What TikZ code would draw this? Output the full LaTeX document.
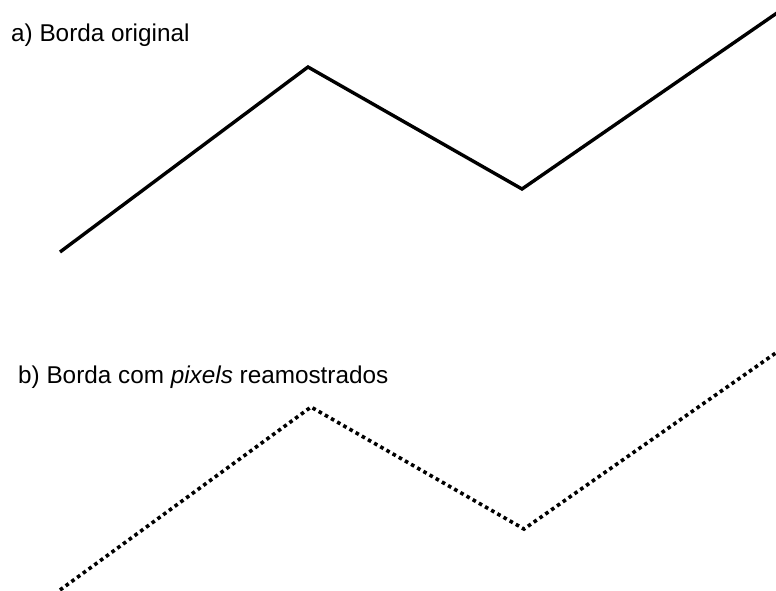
\documentclass[tikz,border=0pt]{standalone}
\usepackage{fontspec}
\setmainfont{Liberation Sans}
\usepackage{tikz}

\begin{document}
\begin{tikzpicture}[
  x=1pt, y=-1pt,
  caption/.style={anchor=base west, inner sep=0pt, font=\fontsize{24.3}{28}\selectfont},
  edge/.style={line width=3.4pt, line join=miter, black},
  resampled/.style={line width=3.6pt, dash pattern=on 3.6pt off 3.5pt, black}
]
  % Frame
  \fill[white] (0,0) rectangle (776,591);
  \useasboundingbox (0,0) rectangle (776,591);
  \clip (0,0) rectangle (776,591);

  % Captions
  \node[caption] (capa) at (11,42) {a) Borda original};
  \node[caption] (capb) at (18,383) {b) Borda com \textit{pixels} reamostrados};

  % Original edge
  \coordinate (a0) at (60,252);
  \coordinate (a1) at (308,67);
  \coordinate (a2) at (522,189);
  \coordinate (a3) at (790,4);

  % Resampled edge
  \coordinate (b0) at (60,590);
  \coordinate (b1) at (311,407);
  \coordinate (b2) at (524,529);
  \coordinate (b3) at (790,343);

  \draw[edge] (a0) -- (a1) -- (a2) -- (a3);
  \draw[resampled] (b0) -- (b1) -- (b2) -- (b3);
\end{tikzpicture}
\end{document}
